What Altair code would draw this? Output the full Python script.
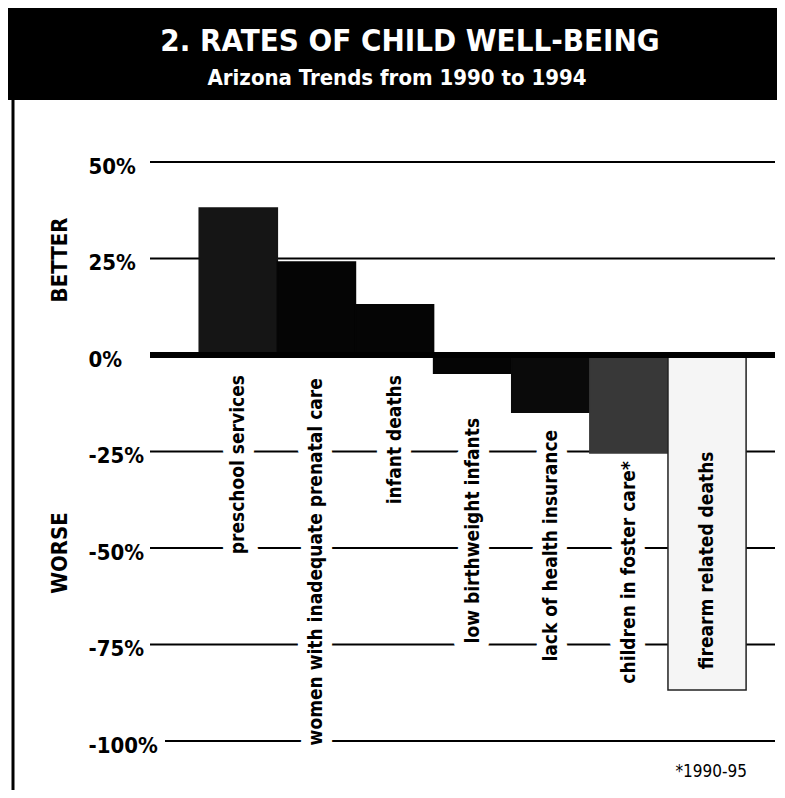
import altair as alt
import pandas as pd

categories = [
    "preschool services",
    "women with inadequate prenatal care",
    "infant deaths",
    "low birthweight infants",
    "lack of health insurance",
    "children in foster care*",
    "firearm related deaths",
]
changes = [38.1, 24.1, 13.0, -4.7, -14.8, -25.4, -86.8]
label_at = [-5.2, -6.0, -5.2, -16.3, -19.4, -27.5, -25.0]
bar_fill = ["#151515", "#050505", "#050505", "#050505", "#0a0a0a", "#383838", "#f5f5f5"]
bar_edge = ["#151515", "#050505", "#050505", "#050505", "#0a0a0a", "#383838", "#222222"]
y_ticks = [-100, -75, -50, -25, 0, 25, 50]

title_text = "2. RATES OF CHILD WELL-BEING"
subtitle_text = "Arizona Trends from 1990 to 1994"
better_text = "BETTER"
worse_text = "WORSE"
footnote_text = "*1990-95"

FONT = "DejaVu Sans Condensed, Liberation Sans Narrow, Roboto Condensed, DejaVu Sans, sans-serif"

df = pd.DataFrame({
    "category": categories,
    "change": changes,
    "label_at": label_at,
    "fill": bar_fill,
    "edge": bar_edge,
})
grid_df = pd.DataFrame({"tick": y_ticks})

one = alt.Data(values=[{"k": 1}])

x_enc = alt.X(
    "category:N", sort=categories,
    scale=alt.Scale(paddingInner=0, paddingOuter=0.5, align=0.63),
    axis=None,
)

y_scale = alt.Scale(domain=[-100, 50], nice=False, zero=True)
y_axis = alt.Axis(
    values=y_ticks, labelExpr="datum.value + '%'", grid=False,
    domain=False, ticks=False, tickSize=0, labelAlign="left", labelPadding=62,
    labelBaseline="middle", labelOffset=4,
    labelFont=FONT, labelFontWeight="bold", labelFontSize=22,
    labelColor="black", title=None,
)

base = alt.Chart(df)

grid_main = alt.Chart(grid_df).transform_filter("datum.tick > -100").mark_rule(
    color="black", strokeWidth=2
).encode(
    y=alt.Y("tick:Q", scale=y_scale, axis=y_axis),
    x=alt.value(0),
    x2=alt.value(625),
)
grid_bottom = alt.Chart(grid_df).transform_filter("datum.tick === -100").mark_rule(
    color="black", strokeWidth=2
).encode(
    y=alt.Y("tick:Q", scale=y_scale, axis=y_axis),
    x=alt.value(15),
    x2=alt.value(625),
)

halo = base.mark_text(
    angle=270, align="right", baseline="middle", font=FONT, fontWeight="bold",
    fontSize=19, fill="white", stroke="white", strokeWidth=20, strokeJoin="round",
).encode(
    x=x_enc,
    y=alt.Y("label_at:Q", scale=y_scale, axis=y_axis),
    text="category:N",
)

bars = base.mark_bar(strokeWidth=1.5).encode(
    x=x_enc,
    y=alt.Y("change:Q", scale=y_scale, axis=y_axis),
    color=alt.Color("fill:N", scale=None),
    stroke=alt.Stroke("edge:N", scale=None),
)

zero = alt.Chart(one).mark_rule(color="black", strokeWidth=6).encode(
    y=alt.datum(0, scale=y_scale, axis=y_axis)
)

labels = base.mark_text(
    angle=270, align="right", baseline="middle", font=FONT, fontWeight="bold",
    fontSize=19, color="black",
).encode(
    x=x_enc,
    y=alt.Y("label_at:Q", scale=y_scale, axis=y_axis),
    text="category:N",
)

banner = alt.Chart(one).mark_rect(color="black").encode(
    x=alt.value(-150), x2=alt.value(640), y=alt.value(-160), y2=alt.value(-62)
)
title = alt.Chart(one).mark_text(
    text=title_text, font=FONT, fontWeight="bold", fontSize=31, color="white",
    align="center", baseline="middle",
).encode(x=alt.value(260), y=alt.value(-120))
subtitle = alt.Chart(one).mark_text(
    text=subtitle_text, font=FONT, fontWeight="bold", fontSize=22, color="white",
    align="center", baseline="middle",
).encode(x=alt.value(247), y=alt.value(-84))

border = alt.Chart(one).mark_rule(color="black", strokeWidth=3).encode(
    x=alt.value(-137), y=alt.value(-62), y2=alt.value(640)
)
better = alt.Chart(one).mark_text(
    text=better_text, font=FONT, fontWeight="bold", fontSize=22, color="black",
    angle=270, align="center", baseline="middle",
).encode(x=alt.value(-90), y=alt.value(98))
worse = alt.Chart(one).mark_text(
    text=worse_text, font=FONT, fontWeight="bold", fontSize=22, color="black",
    angle=270, align="center", baseline="middle",
).encode(x=alt.value(-90), y=alt.value(391))
footnote = alt.Chart(one).mark_text(
    text=footnote_text, font=FONT, fontSize=17, color="black",
    align="right", baseline="middle",
).encode(x=alt.value(597), y=alt.value(610))

chart = alt.layer(
    grid_main, grid_bottom, halo, bars, zero, labels, banner, title, subtitle,
    border, better, worse, footnote
).properties(
    width=625, height=579,
    autosize=alt.AutoSizeParams(type="none"),
    padding={"left": 142, "top": 154, "right": 2, "bottom": 49},
    background="white",
).configure_view(stroke=None)

chart.save("out.html", embed_options={"renderer": "svg", "actions": False})
